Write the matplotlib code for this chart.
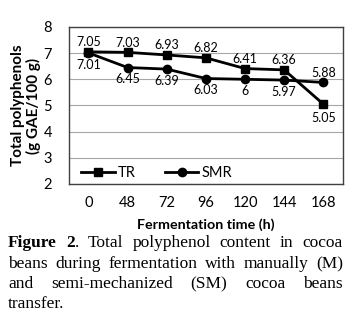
import matplotlib
matplotlib.use('Agg')
import matplotlib.pyplot as plt

# data
times = ['0', '48', '72', '96', '120', '144', '168']
tr = [7.05, 7.03, 6.93, 6.82, 6.41, 6.36, 5.05]
smr = [7.01, 6.45, 6.39, 6.03, 6.00, 5.97, 5.88]
tr_labels = ['7.05', '7.03', '6.93', '6.82', '6.41', '6.36', '5.05']
smr_labels = ['7.01', '6.45', '6.39', '6.03', '6', '5.97', '5.88']

plt.rcParams['font.family'] = ['Lato', 'DejaVu Sans']

fig = plt.figure(figsize=(3.55, 3.25), dpi=100)
ax = fig.add_axes([0.194, 0.434, 0.772, 0.483])

x = list(range(len(times)))
ax.plot(x, tr, color='black', lw=2, marker='s', ms=6, label='TR')
ax.plot(x, smr, color='black', lw=2, marker='o', ms=6, label='SMR')

# data labels: TR above, SMR below (with the crossing at the end)
for i, (v, s) in enumerate(zip(tr, tr_labels)):
    dy = -10 if i == len(tr) - 1 else 7
    ax.annotate(s, (i, v), xytext=(0, dy), textcoords='offset points',
                ha='center', va='center', fontsize=9)
for i, (v, s) in enumerate(zip(smr, smr_labels)):
    dy = 7 if i == len(smr) - 1 else -8.5
    ax.annotate(s, (i, v), xytext=(0, dy), textcoords='offset points',
                ha='center', va='center', fontsize=9)

ax.set_ylim(2, 8)
ax.set_yticks(range(2, 9))
ax.set_xlim(-0.5, len(times) - 0.5)
ax.set_xticks(x)
ax.set_xticklabels(times)
ax.tick_params(length=0, labelsize=10.5, pad=9)
ax.tick_params(axis='y', pad=12)
ax.grid(axis='y', color='#a6a6a6', lw=0.8)
ax.set_axisbelow(True)
for sp in ax.spines.values():
    sp.set_color('#404040')
    sp.set_linewidth(1)

ax.set_xlabel('Fermentation time (h)', fontsize=10.3, fontweight='bold', labelpad=6)
ax.set_ylabel('Total polyphenols\n(g GAE/100 g)', fontsize=11, fontweight='bold',
              labelpad=2, linespacing=1.05)

ax.legend(loc='center', ncol=2, frameon=False, fontsize=10.5,
          handlelength=2.3, handletextpad=0.2, columnspacing=2.0,
          bbox_to_anchor=(0.32, 0.07))

# caption below the chart, justified like the original
serif = ['Liberation Serif', 'DejaVu Serif']
fs = 12.5
left, right = 8, 343
caption = [
    [[('Figure', 'bold')], [('2', 'bold'), ('.', 'normal')], [('Total', 'normal')],
     [('polyphenol', 'normal')], [('content', 'normal')], [('in', 'normal')],
     [('cocoa', 'normal')]],
    [[(w, 'normal')] for w in 'beans during fermentation with manually (M)'.split()],
    [[(w, 'normal')] for w in 'and semi-mechanized (SM) cocoa beans'.split()],
    [[('transfer.', 'normal')]],
]
line_y = [243, 264, 284, 304]
justify = [True, True, True, False]

renderer = fig.canvas.get_renderer()
for words, yp, just in zip(caption, line_y, justify):
    texts = []
    widths = []
    for word in words:
        pieces = []
        wsum = 0
        for s, wt in word:
            t = fig.text(0, 1 - yp / 325, s, fontsize=fs, fontweight=wt,
                         family=serif, va='center')
            pw = t.get_window_extent(renderer).width
            pieces.append((t, pw))
            wsum += pw
        texts.append(pieces)
        widths.append(wsum)
    if just and len(words) > 1:
        gap = (right - left - sum(widths)) / (len(words) - 1)
    else:
        gap = 4
    xp = left
    for pieces, w in zip(texts, widths):
        px = xp
        for t, pw in pieces:
            t.set_x(px / 355)
            px += pw
        xp += w + gap

fig.savefig('out.png', dpi=100)
